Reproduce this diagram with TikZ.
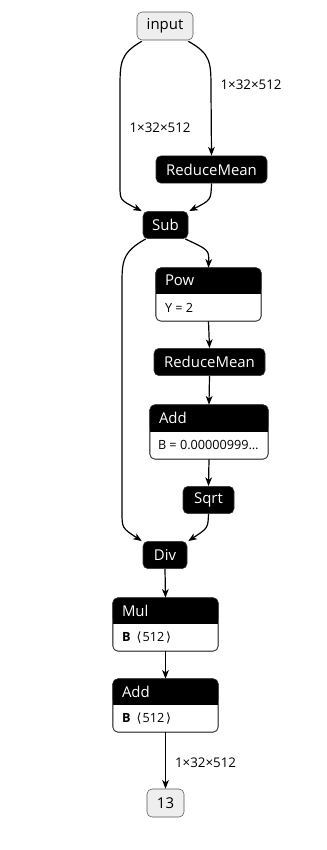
\documentclass[tikz,border=0pt]{standalone}
\usepackage{fontspec}
\setmainfont{Open Sans}
\newfontfamily\symfont{DejaVu Sans}
\usepackage{tikz}
\usetikzlibrary{arrows.meta,positioning,calc}

\definecolor{iofill}{HTML}{EEEEEE}
\definecolor{boxline}{HTML}{333333}
\definecolor{iolink}{HTML}{555555}

\tikzset{
  op/.style={fill=black, draw=boxline, rounded corners=3.75pt, text=white,
    font=\fontsize{11.2}{13}\selectfont, inner sep=0pt, minimum height=20.5pt},
  io/.style={fill=iofill, draw=iolink, rounded corners=3.75pt,
    font=\fontsize{11.2}{13}\selectfont, inner sep=0pt, minimum height=21pt},
  attr/.style={fill=white, draw=boxline, rounded corners=3.75pt, inner sep=0pt,
    minimum width=78.75pt, minimum height=39.75pt},
  hdr/.style={text=white, font=\fontsize{11.2}{13}\selectfont, anchor=west, inner sep=0pt},
  val/.style={font=\fontsize{9.5}{11}\selectfont, anchor=west, inner sep=0pt},
  dims/.style={font=\fontsize{10}{12}\selectfont, inner sep=0pt},
  flow/.style={-{Stealth[length=6.5pt,width=5pt,inset=1.8pt]}, line width=0.9pt},
}

% black title strip on top of an attribute box
\newcommand\hdrfill[2]{%
  \fill[rounded corners=3.75pt] (#1.north west) rectangle ($(#1.north east)+(0,-#2)$);
  \fill ($(#1.north west)+(0,-8pt)$) rectangle ($(#1.north east)+(0,-#2)$);
  \draw[boxline, line width=0.4pt, rounded corners=3.75pt] (#1.south west) rectangle (#1.north east);
}
% bold name followed by a bracketed size
\newcommand\tensorattr[2]{\textbf{#1}\hspace{4.5pt}{\symfont⟨}\hspace{0.8pt}#2\hspace{1.5pt}{\symfont⟩}}

\begin{document}
\begin{tikzpicture}[x=0.75pt,y=-0.75pt]
  \useasboundingbox (0,0) rectangle (326,850);

  % graph inputs / outputs
  \node[io, minimum width=42pt] (input) at (165,26) {input};
  \node[io, minimum width=27.75pt] (out) at (165.5,803) {13};

  % plain operators
  \node[op, minimum width=83.25pt] (rm1) at (211.5,169.5) {ReduceMean};
  \node[op, minimum width=33.75pt] (sub) at (165.5,225) {Sub};
  \node[op, minimum width=83.25pt] (rm2) at (209.5,362) {ReduceMean};
  \node[op, minimum width=38.25pt] (sqrt) at (208.5,500) {Sqrt};
  \node[op, minimum width=33pt] (div) at (165,555) {Div};

  % operators with attributes
  \node[attr] (pow) at (208.5,294.5) {};
  \hdrfill{pow}{19.5pt}
  \node[hdr] (powname) at ($(pow.north west)+(9,13)$) {Pow};
  \node[val] (powy) at ($(pow.north west)+(9,40)$) {Y = 2};

  \node[attr, minimum width=88.5pt, minimum height=40.5pt] (add1) at (209,432) {};
  \hdrfill{add1}{20.25pt}
  \node[hdr] (add1name) at ($(add1.north west)+(9,13.5)$) {Add};
  \node[val] (add1b) at ($(add1.north west)+(8,40.5)$) {B = 0.00000999…};

  \node[attr] (mul) at (165.5,624.5) {};
  \hdrfill{mul}{19.5pt}
  \node[hdr] (mulname) at ($(mul.north west)+(9,13)$) {Mul};
  \node[val] (mulb) at ($(mul.north west)+(9,40)$) {\tensorattr{B}{512}};

  \node[attr] (add2) at (165.5,705.5) {};
  \hdrfill{add2}{19.5pt}
  \node[hdr] (add2name) at ($(add2.north west)+(9,13)$) {Add};
  \node[val] (add2b) at ($(add2.north west)+(9,40)$) {\tensorattr{B}{512}};

  % tensor shapes
  \node[dims] (d1) at (251,85) {1×32×512};
  \node[dims] (d2) at (160,128) {1×32×512};
  \node[dims] (d3) at (205.5,763) {1×32×512};

  % edges
  \draw[flow] ($(input.south east)+(-5,1)$) .. controls (211,54) and (211,62) .. (211,90) -- (rm1.north);
  \draw[flow] ($(input.south west)+(5,1)$) .. controls (120,54) and (120,62) .. (120,90)
    -- (120,186) .. controls (120,200) .. ($(sub.north west)+(-1,0)$);
  \draw[flow] (rm1.south) .. controls (211,200) .. ($(sub.north east)+(1,0)$);
  \draw[flow] ($(sub.south east)+(-3,0)$) .. controls (209,250) .. (pow.north);
  \draw[flow] ($(sub.south west)+(3,0)$) .. controls (122,252) and (122,262) .. (122,285)
    -- (122,512) .. controls (122,528) .. ($(div.north west)+(-1,0)$);
  \draw[flow] (pow.south) -- (rm2.north);
  \draw[flow] (rm2.south) -- (add1.north);
  \draw[flow] (add1.south) -- (sqrt.north);
  \draw[flow] (sqrt.south) .. controls (208,528) .. ($(div.north east)+(1,0)$);
  \draw[flow] (div.south) -- (mul.north);
  \draw[flow] (mul.south) -- (add2.north);
  \draw[flow] (add2.south) -- (out.north);
\end{tikzpicture}
\end{document}
